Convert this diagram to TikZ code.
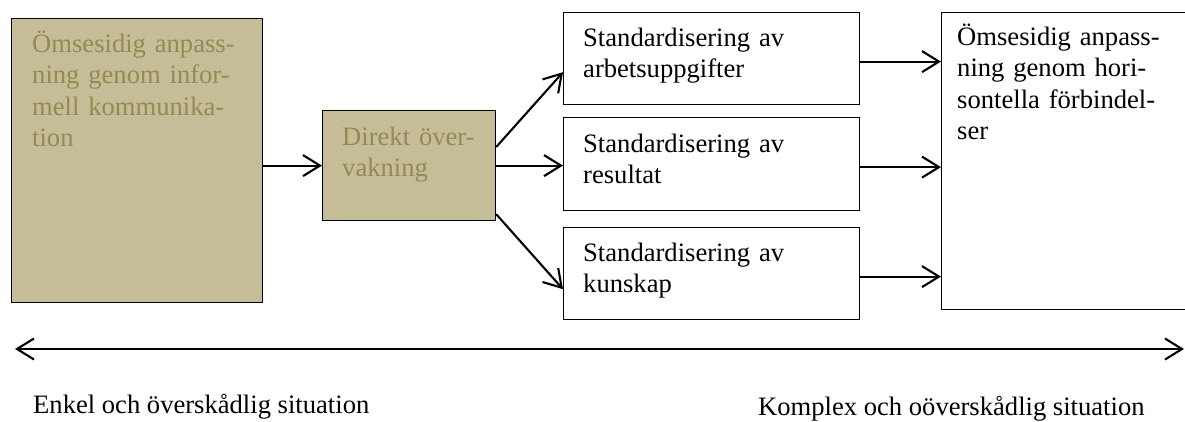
\documentclass[tikz,border=0pt]{standalone}
\usepackage{fontspec}
\setmainfont{Liberation Serif}
\usetikzlibrary{arrows.meta,calc}
\definecolor{tanfill}{HTML}{C4BD97}
\definecolor{tantext}{HTML}{948A54}
\tikzset{
  vbarb/.tip={Straight Barb[length=17pt,width=21pt,line width=2.1pt]},
  box/.style={draw=black, line width=1.2pt, rectangle, anchor=north west, inner sep=0pt},
  tanbox/.style={box, fill=tanfill},
  whitebox/.style={box, fill=white},
  caption/.style={anchor=base west, inner sep=0pt, font=\fontsize{26.6}{31.6}\selectfont},
  label/.style={caption, align=left, text width=260pt},
  flow/.style={line width=2.1pt, -vbarb},
}
\begin{document}
\begin{tikzpicture}[x=1pt,y=-1pt]
\useasboundingbox (0,0) rectangle (1185,421);

% tan boxes
\node[tanbox, minimum width=251pt, minimum height=284pt] (L) at (11,18) {};
\node[label, text=tantext] (Lt) at (32,52) {Ömsesidig anpass-\\ning genom infor-\\mell kommunika-\\tion};
\node[tanbox, minimum width=173pt, minimum height=110pt] (M) at (322,110) {};
\node[label, text=tantext] (Mt) at (342,145) {Direkt över-\\vakning};

% standardisation boxes
\node[whitebox, minimum width=296pt, minimum height=92pt] (S1) at (563,12) {};
\node[label] (S1t) at (583,46) {Standardisering av\\arbetsuppgifter};
\node[whitebox, minimum width=296pt, minimum height=93pt] (S2) at (563,117) {};
\node[label] (S2t) at (583,152) {Standardisering av\\resultat};
\node[whitebox, minimum width=296pt, minimum height=92pt] (S3) at (563,227) {};
\node[label] (S3t) at (583,261) {Standardisering av\\kunskap};

% right box, running off the right edge
\node[whitebox, minimum width=260pt, minimum height=297pt] (R) at (941,12) {};
\node[label] (Rt) at (957,45) {Ömsesidig anpass-\\ning genom hori-\\sontella förbindel-\\ser};

% connectors
\draw[flow] (L.east |- M.east) -- (M.west);
\draw[flow] ([yshift=-37pt]M.north east) -- ([yshift=33pt]S1.south west);
\draw[flow] (M.east) -- (M.east -| S2.west);
\draw[flow] ([yshift=7pt]M.south east) -- ([yshift=31pt]S3.south west);
\draw[flow] ([yshift=-3pt]S1.east) -- ([yshift=-3pt]S1.east -| R.west);
\draw[flow] ([yshift=-3pt]S2.east) -- ([yshift=-3pt]S2.east -| R.west);
\draw[flow] ([yshift=-3pt]S3.east) -- ([yshift=-3pt]S3.east -| R.west);

% scale of situations
\coordinate (lo) at (15,349);
\coordinate (hi) at (1184,349);
\draw[line width=2.1pt, vbarb-vbarb] (lo) -- (hi);
\node[caption] (simple) at (33,413) {Enkel och överskådlig situation};
\node[caption] (complex) at (758,415) {Komplex och oöverskådlig situation};
\end{tikzpicture}
\end{document}
